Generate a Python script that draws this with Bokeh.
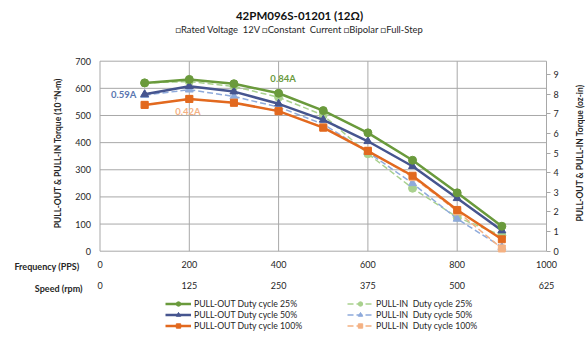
import math
from bokeh.plotting import figure
from bokeh.models import Range1d, LinearAxis, FixedTicker, Label, Legend, LegendItem
from bokeh.embed import file_html
from bokeh.resources import INLINE

FONT = "Lato"
NB = "\u00a0"

# ---- data ----
freq = [100, 200, 300, 400, 500, 600, 700, 800, 900]
pull_out_25 = [620, 633, 617, 582, 518, 436, 335, 215, 92]
pull_out_50 = [578, 608, 588, 543, 484, 405, 313, 195, 76]
pull_out_100 = [539, 561, 547, 516, 455, 369, 278, 152, 44]
pull_in_25 = [620, 625, 607, 567, 501, 359, 232, 125, 58]
pull_in_50 = [575, 595, 570, 531, 468, 365, 250, 119, 15]
pull_in_100 = [539, 561, 547, 516, 457, 371, 273, 147, 10]

freq_ticks = [0, 200, 400, 600, 800, 1000]
rpm_ticks = [0, 125, 250, 375, 500, 625]
left_ticks = [0, 100, 200, 300, 400, 500, 600, 700]
right_ticks = [0, 1, 2, 3, 4, 5, 6, 7, 8, 9]

title_text = "42PM096S-01201 (12\u03a9)"
subtitle_text = ("\u25a1Rated Voltage " + NB + "12V \u25a1Constant " + NB +
                 "Current \u25a1Bipolar \u25a1Full-Step")
left_title = "PULL-OUT & PULL-IN Torque (10\u207b\u2074N\u00b7m)"
right_title = "PULL-OUT & PULL-IN Torque (oz-in)"
legend_labels_out = ["PULL-OUT Duty cycle 25%", "PULL-OUT Duty cycle 50%", "PULL-OUT Duty cycle 100%"]
legend_labels_in = ["PULL-IN " + NB + "Duty cycle 25%", "PULL-IN " + NB + "Duty cycle 50%",
                    "PULL-IN " + NB + "Duty cycle 100%"]

GREEN, BLUE, ORANGE = "#6a9a3c", "#46558f", "#e2691f"
LGREEN, LBLUE, LORANGE = "#a9d18e", "#8eaadb", "#f4b183"
GRID = "#a8a8a8"
TXT = "#262626"

W, H = 585, 342
# plot-area placement in pixels (layout only)
X0PX, X1PX, Y0PX, Y1PX = 99.5, 546.0, 250.7, 60.7
XMAX, YMAX, OZMAX, RPMMAX = 1000, 700, 9.68, 625
sx = (X1PX - X0PX) / XMAX
sy = (Y0PX - Y1PX) / YMAX
xr = (-X0PX / sx, (W - X0PX) / sx)
yr = (-(H - Y0PX) / sy, Y0PX / sy)

def px(x):
    return (x - X0PX) / sx

def py(y):
    return (Y0PX - y) / sy

p = figure(width=W, height=H, x_range=Range1d(*xr), y_range=Range1d(*yr),
           output_backend="svg", toolbar_location=None,
           min_border=0, min_border_left=0, min_border_right=0,
           min_border_top=0, min_border_bottom=0)
p.title.visible = False
p.outline_line_color = None
p.grid.visible = False

# plot-area grid lines, drawn from the tick lists
p.segment(x0=freq_ticks, y0=[0] * len(freq_ticks), x1=freq_ticks, y1=[YMAX] * len(freq_ticks),
          line_color=GRID, line_width=1)
p.segment(x0=[0] * len(left_ticks), y0=left_ticks, x1=[XMAX] * len(left_ticks), y1=left_ticks,
          line_color=GRID, line_width=1)

def style_axis(a, size="9px"):
    a.major_tick_in = 0
    a.minor_tick_line_color = None
    a.axis_line_color = None
    a.major_label_text_font = FONT
    a.major_label_text_font_size = size
    a.major_label_text_color = TXT

ax = p.xaxis[0]
ax.fixed_location = 0
ax.ticker = FixedTicker(ticks=freq_ticks)
style_axis(ax)
ax.major_tick_out = 0
ax.major_label_standoff = 10

p.extra_x_ranges = {"rpm": Range1d(xr[0] * RPMMAX / XMAX, xr[1] * RPMMAX / XMAX)}
ax2 = LinearAxis(x_range_name="rpm", fixed_location=0, ticker=FixedTicker(ticks=rpm_ticks))
style_axis(ax2)
ax2.major_tick_out = 0
ax2.major_label_standoff = 31
p.add_layout(ax2, "below")

ay = p.yaxis[0]
ay.fixed_location = 0
ay.ticker = FixedTicker(ticks=left_ticks)
style_axis(ay)
ay.major_tick_out = 0
ay.major_label_standoff = 9

p.extra_y_ranges = {"oz": Range1d(yr[0] * OZMAX / YMAX, yr[1] * OZMAX / YMAX)}
ar = LinearAxis(y_range_name="oz", fixed_location=XMAX, ticker=FixedTicker(ticks=right_ticks))
style_axis(ar)
ar.major_tick_out = 4
ar.major_tick_line_color = GRID
ar.major_label_standoff = 3
p.add_layout(ar, "right")

def series(ys, color, marker, width, dash, size):
    l = p.line(freq, ys, line_color=color, line_width=width, line_dash=dash)
    s = p.scatter(freq, ys, marker=marker, size=size, fill_color=color, line_color=color)
    return [l, s]

r_pi25 = series(pull_in_25, LGREEN, "circle", 1.5, "6 3", 8)
r_pi50 = series(pull_in_50, LBLUE, "triangle", 1.5, "6 3", 8)
r_pi100 = series(pull_in_100, LORANGE, "square", 1.5, "6 3", 7)
r_po100 = series(pull_out_100, ORANGE, "square", 2.5, "solid", 7)
r_po50 = series(pull_out_50, BLUE, "triangle", 2.5, "solid", 8)
r_po25 = series(pull_out_25, GREEN, "circle", 2.5, "solid", 8)

def make_legend(labels, renderers, x):
    items = [LegendItem(label=t, renderers=r) for t, r in zip(labels, renderers)]
    lg = Legend(items=items, location=(x, 11), orientation="vertical")
    lg.glyph_width = 26
    lg.glyph_height = 11
    lg.label_height = 11
    lg.spacing = 0
    lg.padding = 0
    lg.margin = 0
    lg.label_standoff = 3
    lg.border_line_color = None
    lg.background_fill_alpha = 0
    lg.label_text_font = FONT
    lg.label_text_font_size = "8.7px"
    lg.label_text_color = TXT
    p.add_layout(lg)

make_legend(legend_labels_out, [r_po25, r_po50, r_po100], 165)
make_legend(legend_labels_in, [r_pi25, r_pi50, r_pi100], 347)

def lab(x, y, text, color=TXT, size="9.5px", style="bold", align="center", angle=0.0):
    p.add_layout(Label(x=x, y=y, text=text, text_color=color, text_font=FONT,
                       text_font_size=size, text_font_style=style, angle=angle,
                       text_align=align, text_baseline="middle"))

# current annotations (data space)
lab(410, 635, "0.84A", GREEN)
lab(53, 577, "0.59A", "#5a76b0")
lab(197, 516, "0.42A", LORANGE)

# titles and axis titles (placed in pixel layout positions)
lab(px(299), py(15), title_text, "#111111", "11.5px", "bold")
lab(px(299), py(29.3), subtitle_text, TXT, "9.4px", "normal")
lab(px(57), py(152.7), left_title, TXT, "8.5px", "bold", "center", math.pi / 2)
lab(px(579), py(152.5), right_title, TXT, "8.5px", "bold", "center", math.pi / 2)
lab(px(79), py(266), "Frequency (PPS)", TXT, "9px", "bold", "right")
lab(px(82), py(287.5), "Speed (rpm)", TXT, "9px", "bold", "right")

open("out.html", "w").write(file_html(p, INLINE))
